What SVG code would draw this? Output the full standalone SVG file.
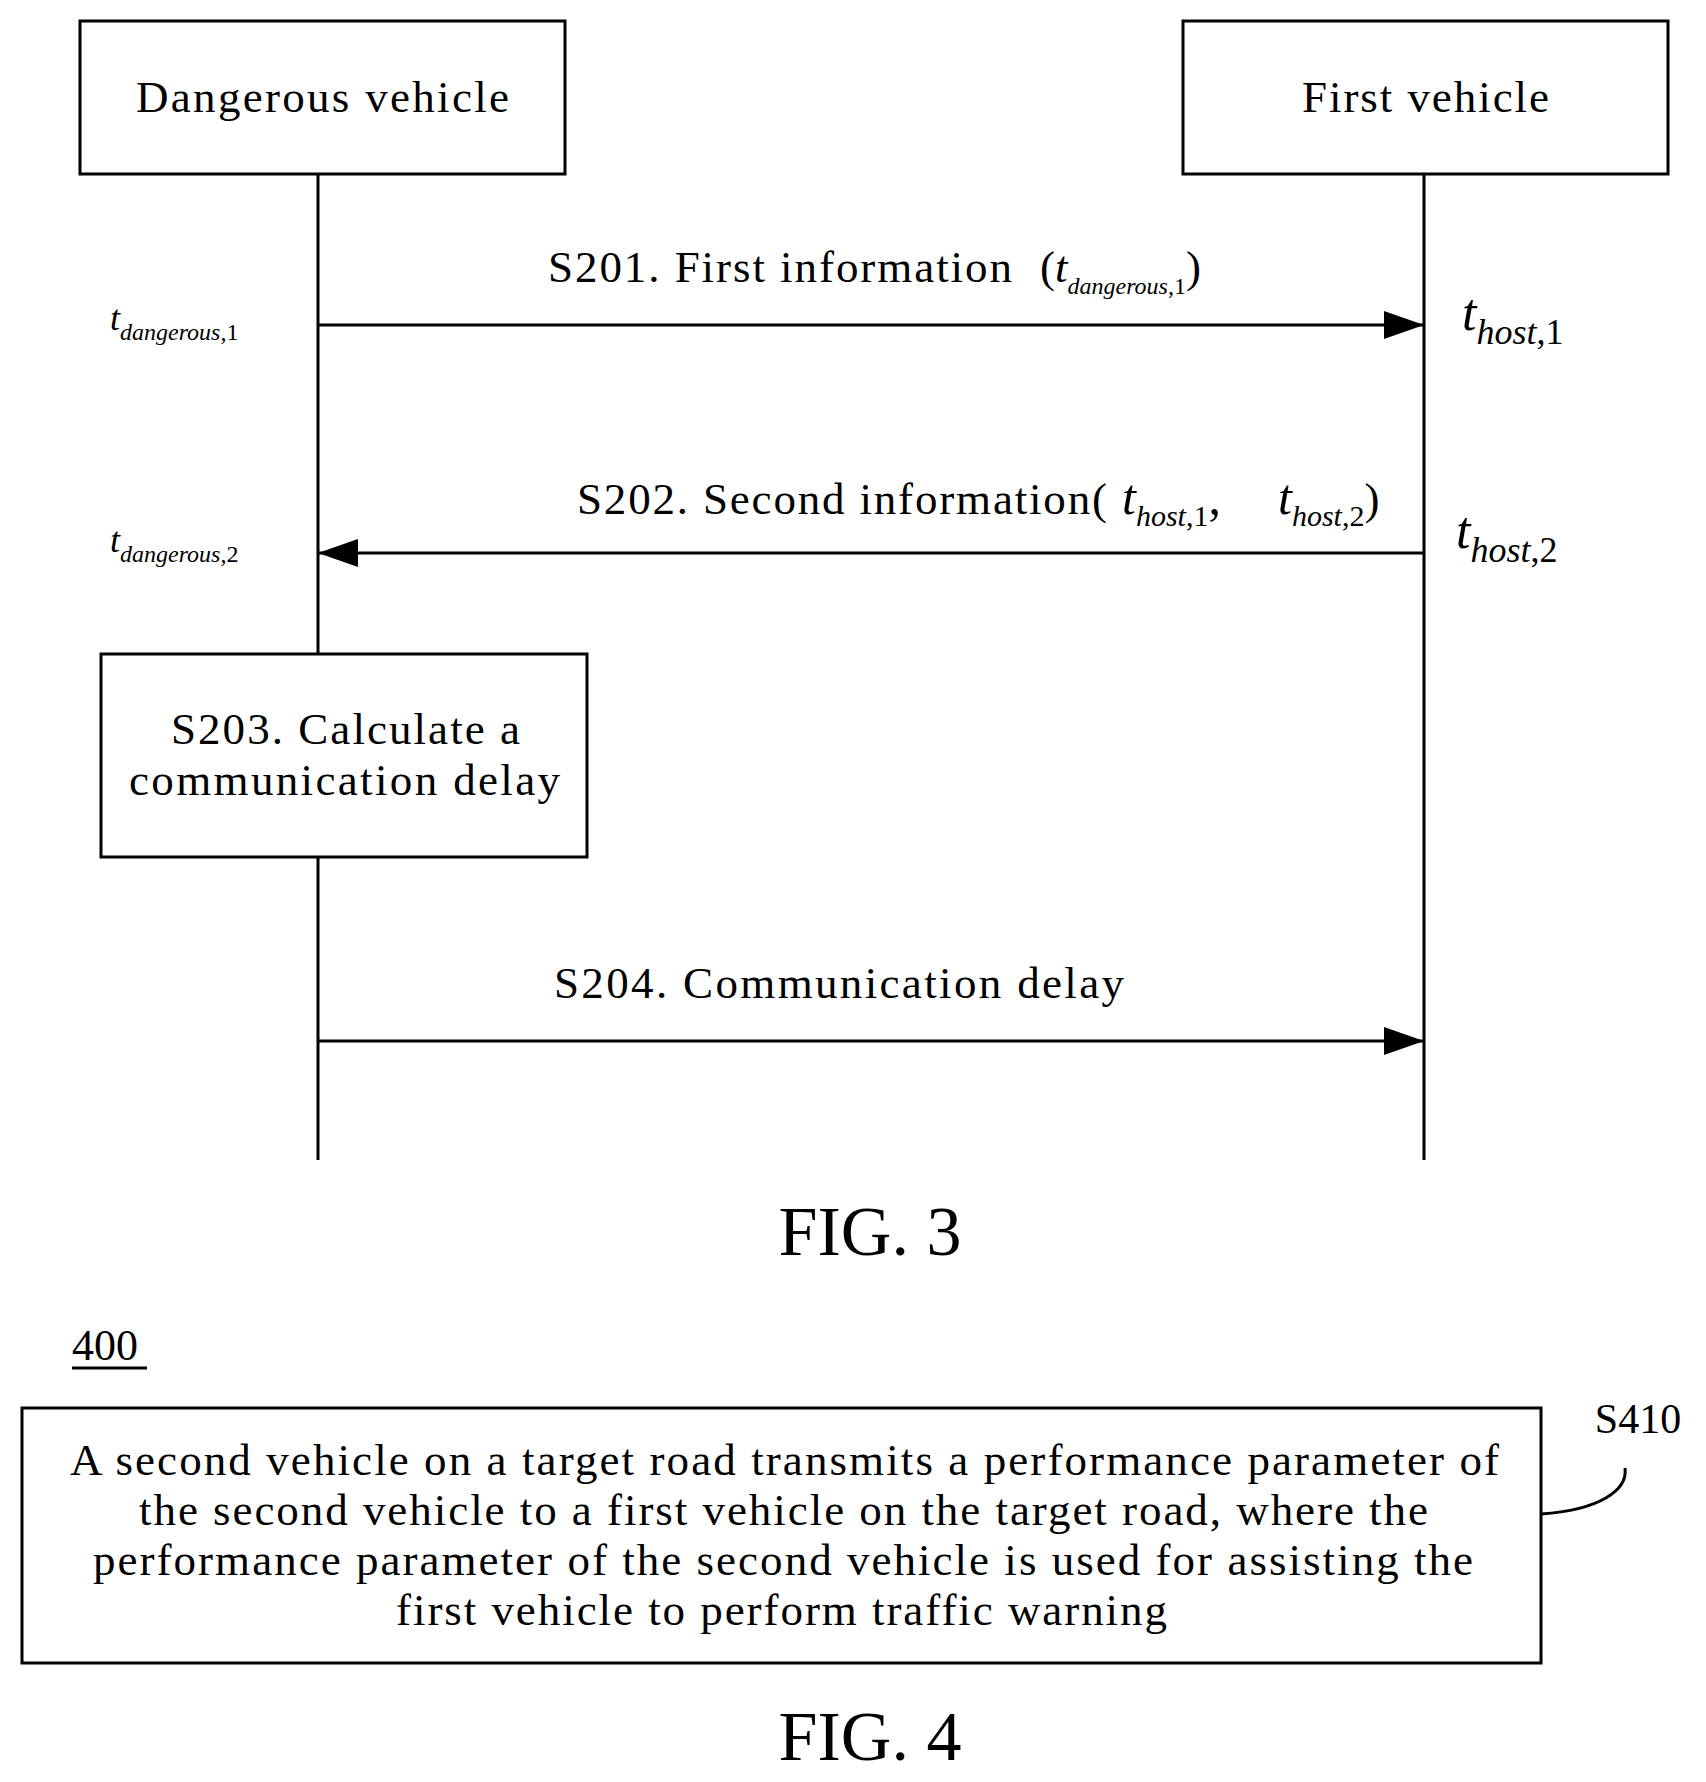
<svg xmlns="http://www.w3.org/2000/svg" width="1706" height="1782" viewBox="0 0 1706 1782">
<style>
text{font-family:"Liberation Serif","Times New Roman",serif;fill:#000}
.b{fill:#fff;stroke:#000;stroke-width:3}
.l{stroke:#000;stroke-width:3;fill:none}
.t{font-size:45px}
.i{font-style:italic}
</style>
<defs>
<marker id="ar" viewBox="0 0 40 28" markerWidth="40" markerHeight="28" refX="40" refY="14" orient="auto" markerUnits="userSpaceOnUse"><path d="M0,0L40,14L0,28z"/></marker></defs>
<rect width="1706" height="1782" fill="#fff"/>
<g id="dangerous"><rect class="b" x="80" y="21" width="485" height="153"/><text class="t" x="136" y="112" textLength="373" lengthAdjust="spacing">Dangerous vehicle</text></g>
<g id="first"><rect class="b" x="1183" y="21" width="485" height="153"/><text class="t" x="1302" y="112" textLength="247" lengthAdjust="spacing">First vehicle</text></g>
<g id="connectors">
<line class="l" x1="318" y1="174" x2="318" y2="654"/>
<line class="l" x1="318" y1="857" x2="318" y2="1160"/>
<line class="l" x1="1424" y1="174" x2="1424" y2="1160"/>
<line class="l" x1="318" y1="325" x2="1424" y2="325" marker-end="url(#ar)"/>
<line class="l" x1="1424" y1="553" x2="318" y2="553" marker-end="url(#ar)"/>
<line class="l" x1="318" y1="1041" x2="1424" y2="1041" marker-end="url(#ar)"/>
<path class="l" d="M1541,1514 C1600,1510 1628,1490 1625,1468"/>
</g>
<g id="labels">
<text class="t" x="548" y="282" textLength="464" lengthAdjust="spacing">S201. First information</text>
<text class="t" x="1040" y="282">(<tspan class="i">t</tspan><tspan class="i" font-size="24" dy="12">dangerous</tspan><tspan font-size="24">,1</tspan><tspan dy="-12">)</tspan></text>
<text x="110" y="330" font-size="36"><tspan class="i">t</tspan><tspan class="i" font-size="24" dy="10">dangerous</tspan><tspan font-size="24">,1</tspan></text>
<text x="1462" y="330" font-size="52"><tspan class="i">t</tspan><tspan class="i" font-size="36" dy="14">host</tspan><tspan font-size="36">,1</tspan></text>
<text class="t" x="577" y="514" textLength="530" lengthAdjust="spacing">S202. Second information(</text>
<text x="1122" y="514" font-size="50"><tspan class="i">t</tspan><tspan class="i" font-size="30" dy="12">host</tspan><tspan font-size="30">,1</tspan><tspan dy="-12">,</tspan></text>
<text x="1278" y="514" font-size="50"><tspan class="i">t</tspan><tspan class="i" font-size="30" dy="12">host</tspan><tspan font-size="30">,2</tspan><tspan dy="-12" font-size="45">)</tspan></text>
<text x="110" y="552" font-size="36"><tspan class="i">t</tspan><tspan class="i" font-size="24" dy="10">dangerous</tspan><tspan font-size="24">,2</tspan></text>
<text x="1456" y="548" font-size="52"><tspan class="i">t</tspan><tspan class="i" font-size="36" dy="14">host</tspan><tspan font-size="36">,2</tspan></text>
<text class="t" x="554" y="998" textLength="570" lengthAdjust="spacing">S204. Communication delay</text>
<text x="870" y="1255" font-size="70" text-anchor="middle">FIG. 3</text>
<text x="72" y="1360" font-size="44">400</text>
<line x1="72" y1="1368" x2="147" y2="1368" stroke="#000" stroke-width="3"/>
<text x="1638" y="1433" font-size="42" text-anchor="middle">S410</text>
<text x="870" y="1760" font-size="70" text-anchor="middle">FIG. 4</text>
</g>
<g id="s203"><rect class="b" x="101" y="654" width="486" height="203"/>
<text class="t" x="171" y="744" textLength="349" lengthAdjust="spacing">S203. Calculate a</text>
<text class="t" x="129" y="795" textLength="431" lengthAdjust="spacing">communication delay</text></g>
<g id="s410"><rect class="b" x="22" y="1408" width="1519" height="255"/>
<text class="t" x="70" y="1475" textLength="1429" lengthAdjust="spacing">A second vehicle on a target road transmits a performance parameter of</text>
<text class="t" x="139" y="1525" textLength="1289" lengthAdjust="spacing">the second vehicle to a first vehicle on the target road, where the</text>
<text class="t" x="93" y="1575" textLength="1380" lengthAdjust="spacing">performance parameter of the second vehicle is used for assisting the</text>
<text class="t" x="396" y="1625" textLength="771" lengthAdjust="spacing">first vehicle to perform traffic warning</text></g>
</svg>
